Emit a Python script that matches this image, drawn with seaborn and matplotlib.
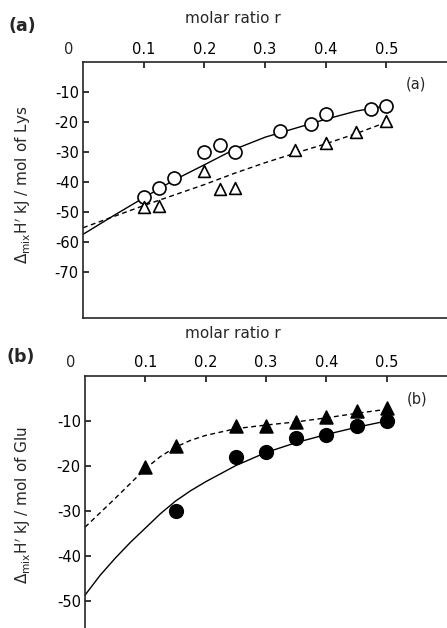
"""Enthalpy of mixing vs molar ratio r: (a) Lys, (b) Glu — two stacked panels."""
import matplotlib
matplotlib.use("Agg")
import matplotlib.pyplot as plt
import seaborn as sns

# ---- panel (a): Lys, open symbols ----
a_circ_r = [0.1, 0.125, 0.15, 0.2, 0.225, 0.25, 0.325, 0.375, 0.4, 0.475, 0.5]
a_circ_h = [-44.8, -42.0, -38.7, -29.8, -27.6, -29.8, -22.8, -20.5, -17.4, -15.5, -14.5]
a_tri_r = [0.1, 0.125, 0.2, 0.225, 0.25, 0.35, 0.4, 0.45, 0.5]
a_tri_h = [-48.3, -48.1, -36.1, -42.2, -42.0, -29.2, -27.0, -23.3, -19.6]
a_fit_r = [0.0, 0.05, 0.1, 0.15, 0.2, 0.25, 0.3, 0.35, 0.4, 0.45, 0.5]
a_solid_h = [-57.4, -51.2, -45.2, -39.3, -34.2, -29.0, -25.0, -22.0, -19.0, -16.3, -14.5]
a_dash_h = [-55.2, -51.5, -47.8, -44.3, -40.8, -37.0, -33.5, -30.3, -27.2, -23.8, -20.0]

# ---- panel (b): Glu, filled symbols ----
b_circ_r = [0.15, 0.25, 0.3, 0.35, 0.4, 0.45, 0.5]
b_circ_h = [-30.0, -17.9, -16.8, -13.8, -13.0, -11.1, -10.0]
b_tri_r = [0.1, 0.15, 0.25, 0.3, 0.35, 0.4, 0.45, 0.5]
b_tri_h = [-20.2, -15.5, -11.0, -11.1, -10.2, -9.0, -7.7, -7.2]
b_fit_r = [0.0, 0.025, 0.05, 0.075, 0.1, 0.125, 0.15, 0.175, 0.2, 0.25,
           0.3, 0.35, 0.4, 0.45, 0.5]
b_solid_h = [-48.7, -44.3, -40.5, -37.0, -33.8, -30.6, -27.8, -25.5, -23.5, -19.9,
             -17.0, -14.8, -13.0, -11.4, -10.0]
b_dash_h = [-33.6, -30.4, -27.2, -23.9, -20.6, -17.9, -15.8, -14.3, -13.2, -11.7,
            -10.9, -10.2, -9.3, -8.3, -7.4]

x_ticks = [0.1, 0.2, 0.3, 0.4, 0.5]
x_ticklabels = ["0.1", "0.2", "0.3", "0.4", "0.5"]
a_yticks = [-10, -20, -30, -40, -50, -60, -70]
b_yticks = [-10, -20, -30, -40, -50]

sns.set_style("ticks")
plt.rcParams.update({
    "font.family": ["DejaVu Sans"],
    "font.size": 10.5,
    "axes.unicode_minus": False,
    "axes.linewidth": 1.2,
    "xtick.labelsize": 10.5,
    "ytick.labelsize": 10.5,
})

DASH = (0, (3.5, 2.5))


def draw_panel(ax, fit_r, solid_h, dash_h, circ_r, circ_h, tri_r, tri_h,
               filled, yticks, ylim, ylabel, inner):
    sns.lineplot(x=fit_r, y=solid_h, ax=ax, color="black", lw=1.0,
                 sort=False, estimator=None, zorder=2)
    sns.lineplot(x=fit_r, y=dash_h, ax=ax, color="black", lw=1.0,
                 sort=False, estimator=None, linestyle=DASH, zorder=2)
    fc = "black" if filled else "white"
    sns.scatterplot(x=circ_r, y=circ_h, ax=ax, marker="o",
                    s=95 if filled else 88, color=fc, edgecolor="black",
                    linewidth=1.2, zorder=3)
    sns.scatterplot(x=tri_r, y=tri_h, ax=ax, marker="^",
                    s=85 if filled else 72, color=fc, edgecolor="black",
                    linewidth=1.2, zorder=3)

    ax.set_xlim(0, 0.6)
    ax.set_ylim(*ylim)
    ax.xaxis.tick_top()
    ax.set_xticks(x_ticks)
    ax.set_xticklabels(x_ticklabels)
    ax.set_yticks(yticks)
    ax.tick_params(axis="both", direction="in", length=4.5, width=1.1,
                   colors="black")
    ax.tick_params(axis="x", pad=4)
    ax.tick_params(axis="y", pad=3)
    ax.spines["right"].set_visible(False)
    # the "0" sits to the left of the spine in the original
    ax.annotate("0", xy=(0, 1), xycoords=("data", "axes fraction"),
                xytext=(-10, 4), textcoords="offset points",
                ha="center", va="bottom", fontsize=10.5)
    ax.xaxis.set_label_position("top")
    ax.set_xlabel("molar ratio r", fontsize=11)
    ax.set_ylabel(ylabel, fontsize=11)
    ax.text(inner[0], inner[1], inner[2], transform=ax.transAxes,
            ha="center", va="center", fontsize=10.5)


fig = plt.figure(figsize=(4.47, 6.28), dpi=100)
ax_a = fig.add_axes([83 / 447, 1 - 318 / 628, 364 / 447, (318 - 62.3) / 628])
ax_b = fig.add_axes([85 / 447, 0.0, 362 / 447, (628 - 376) / 628])

draw_panel(ax_a, a_fit_r, a_solid_h, a_dash_h, a_circ_r, a_circ_h,
           a_tri_r, a_tri_h, False, a_yticks, (-85.3, 0),
           r"$\Delta_{\rm mix}{\rm H}'$ kJ / mol of Lys", (0.915, 0.915, "(a)"))
draw_panel(ax_b, b_fit_r, b_solid_h, b_dash_h, b_circ_r, b_circ_h,
           b_tri_r, b_tri_h, True, b_yticks, (-56, 0),
           r"$\Delta_{\rm mix}{\rm H}'$ kJ / mol of Glu", (0.917, 0.909, "(b)"))
ax_b.spines["bottom"].set_visible(False)

ax_a.xaxis.set_label_coords(0.412, 1.173)
ax_a.xaxis.label.set_va("center")
ax_a.yaxis.set_label_coords(-0.165, 0.52)
ax_a.yaxis.label.set_va("center")
ax_b.xaxis.set_label_coords(0.409, 1.167)
ax_b.xaxis.label.set_va("center")
ax_b.yaxis.set_label_coords(-0.17, 0.488)
ax_b.yaxis.label.set_va("center")

fig.text(22 / 447, 1 - 26 / 628, "(a)", ha="center", va="center",
         fontsize=12.5, fontweight="bold")
fig.text(21 / 447, 1 - 357 / 628, "(b)", ha="center", va="center",
         fontsize=12.5, fontweight="bold")

fig.savefig("out.png", dpi=100)
plt.close(fig)
